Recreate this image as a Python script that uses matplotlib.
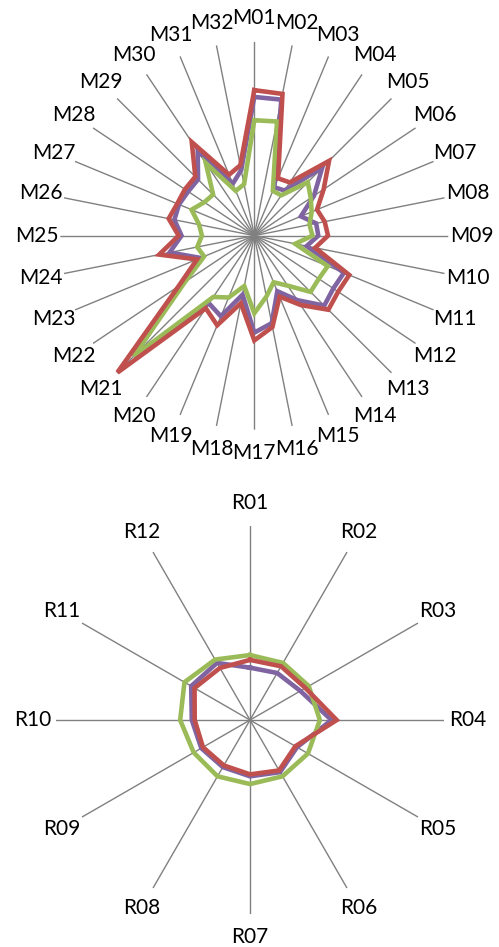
import numpy as np
import matplotlib
matplotlib.use("Agg")
import matplotlib.pyplot as plt

plt.rcParams["font.family"] = ["Lato", "DejaVu Sans"]

# top chart: 32 spokes
m_labels = [f"M{i:02d}" for i in range(1, 33)]
purple_m = [0.715, 0.715, 0.27, 0.28, 0.495, 0.37, 0.26, 0.325, 0.33, 0.275, 0.50, 0.49,
            0.51, 0.40, 0.31, 0.46, 0.50, 0.31, 0.45, 0.42, 0.88, 0.45, 0.30, 0.445,
            0.375, 0.42, 0.42, 0.41, 0.41, 0.525, 0.29, 0.345]
red_m = [0.75, 0.745, 0.32, 0.33, 0.545, 0.43, 0.35, 0.37, 0.38, 0.32, 0.53, 0.52,
         0.54, 0.43, 0.34, 0.48, 0.54, 0.355, 0.50, 0.45, 1.0, 0.47, 0.32, 0.50,
         0.39, 0.45, 0.43, 0.43, 0.43, 0.58, 0.34, 0.37]
green_m = [0.595, 0.60, 0.25, 0.25, 0.39, 0.35, 0.32, 0.29, 0.30, 0.215, 0.41, 0.40,
           0.41, 0.31, 0.26, 0.32, 0.40, 0.265, 0.345, 0.38, 0.88, 0.43, 0.28, 0.30,
           0.27, 0.29, 0.35, 0.31, 0.30, 0.45, 0.25, 0.27]

# bottom chart: 12 spokes
r_labels = [f"R{i:02d}" for i in range(1, 13)]
purple_r = [0.27, 0.28, 0.30, 0.42, 0.28, 0.31, 0.29, 0.28, 0.29, 0.30, 0.35, 0.34]
red_r = [0.31, 0.32, 0.33, 0.447, 0.27, 0.30, 0.28, 0.27, 0.28, 0.285, 0.33, 0.31]
green_r = [0.335, 0.34, 0.35, 0.36, 0.345, 0.335, 0.33, 0.335, 0.335, 0.36, 0.39, 0.36]

PURPLE = "#8064A2"
RED = "#C0504D"
GREEN = "#9BBB59"
SPOKE = "#808080"


def radar(ax, labels, series):
    n = len(labels)
    theta = np.linspace(0, 2 * np.pi, n, endpoint=False)
    ax.set_theta_zero_location("N")
    ax.set_theta_direction(-1)
    ax.set_ylim(0, 1)
    ax.set_yticks([])
    ax.set_xticks(theta)
    ax.set_xticklabels([])
    ax.xaxis.grid(True, color=SPOKE, linewidth=1.0)
    ax.yaxis.grid(False)
    ax.spines["polar"].set_visible(False)
    ax.patch.set_visible(False)
    closed = np.append(theta, theta[0])
    for vals, col in series:
        v = np.append(vals, vals[0])
        ax.plot(closed, v, color=col, linewidth=3.3, solid_joinstyle="miter", zorder=3)
    for t, lab in zip(theta, labels):
        ax.text(t, 1.12, lab, ha="center", va="center", fontsize=15,
                color="black", clip_on=False)


fig = plt.figure(figsize=(4.99, 9.47), dpi=100)
ax1 = fig.add_axes([0.1208, 0.5463, 0.7776, 0.4097], projection="polar")
radar(ax1, m_labels, [(purple_m, PURPLE), (green_m, GREEN), (red_m, RED)])

ax2 = fig.add_axes([0.1122, 0.0348, 0.7776, 0.4097], projection="polar")
radar(ax2, r_labels, [(purple_r, PURPLE), (green_r, GREEN), (red_r, RED)])

fig.savefig("out.png", dpi=100)
